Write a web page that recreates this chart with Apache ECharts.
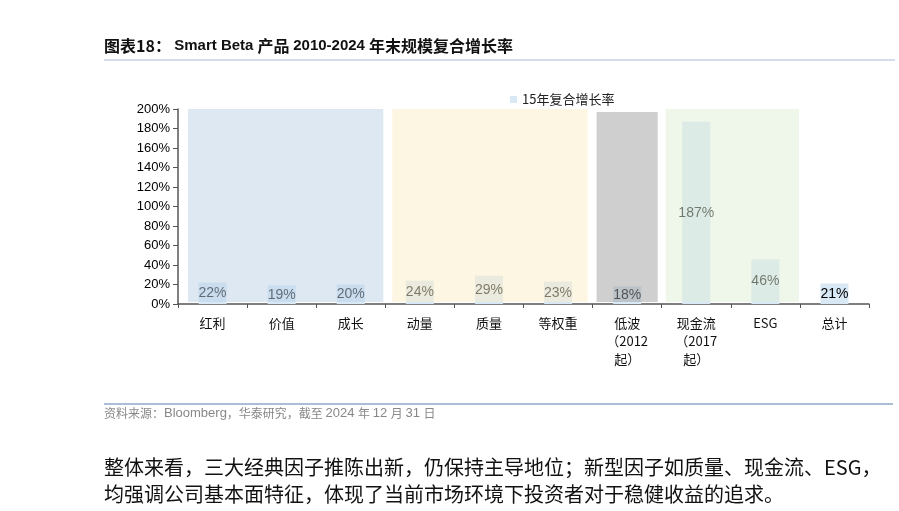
<!DOCTYPE html>
<html>
<head>
<meta charset="utf-8">
<style>
  html, body { margin: 0; padding: 0; background: #fff; }
  #main { width: 899px; height: 511px; }
</style>
</head>
<body>
<div id="main"></div>
<script src="https://cdn.jsdelivr.net/npm/echarts@6/dist/echarts.min.js"></script>
<script>
// 数据
var categories = ['红利', '价值', '成长', '动量', '质量', '等权重', '低波\n（2012\n起）', '现金流\n（2017\n起）', 'ESG', '总计'];
var growth = [0.22, 0.19, 0.20, 0.24, 0.29, 0.23, 0.18, 1.87, 0.46, 0.21];
var seriesName = '15年复合增长率';

// 背景分组（起止类目序号、顶部数值）
var bandFirst = [0, 3, 6, 7];
var bandLast = [2, 5, 6, 8];
var bandTop = [2, 2, 1.97, 2];

var bandColors = ['rgba(187,209,231,0.5)', 'rgba(251,237,199,0.5)', 'rgba(160,160,160,0.5)', 'rgba(223,237,213,0.5)'];
var padLeft = [10, 7, 4, 4];
var padRight = [2, 5, 4, 1];

var bandData = bandFirst.map(function (f, i) {
    return [f, bandLast[i] + 1, bandTop[i]];
});

var latin = '"Liberation Sans", Arial, Helvetica, sans-serif';
var cjk = '"Noto Sans CJK SC", "Liberation Sans", sans-serif';

var myChart = echarts.init(document.getElementById('main'));

var option = {
    animation: false,
    grid: { left: 178, right: 30, top: 109, bottom: 207 },
    legend: {
        data: [seriesName],
        left: 505, top: 88,
        icon: 'rect', itemWidth: 7, itemHeight: 7, itemGap: 4,
        textStyle: { fontSize: 13, color: '#222', fontFamily: cjk }
    },
    xAxis: [{
        type: 'category',
        data: categories,
        axisLine: { lineStyle: { color: '#555', width: 1.5 } },
        axisTick: { show: true, length: 4, lineStyle: { color: '#555' } },
        axisLabel: { interval: 0, margin: 10, fontSize: 13, lineHeight: 18, color: '#111', fontFamily: cjk }
    }, {
        type: 'value', min: 0, max: 10, show: false
    }],
    yAxis: {
        type: 'value', min: 0, max: 2, interval: 0.2,
        axisLine: { show: true, lineStyle: { color: '#555', width: 1.5 } },
        axisTick: { show: true, length: 5, lineStyle: { color: '#555' } },
        splitLine: { show: false },
        axisLabel: {
            margin: 8, fontSize: 13, color: '#000', fontFamily: latin,
            formatter: function (v) { return Math.round(v * 100) + '%'; }
        }
    },
    series: [{
        name: seriesName,
        type: 'bar',
        data: growth,
        barWidth: 28,
        z: 2,
        itemStyle: { color: '#d8e8f4' },
        label: {
            show: true, position: 'inside', color: '#000', fontSize: 14, fontFamily: latin,
            formatter: function (p) { return Math.round(p.value * 100) + '%'; }
        }
    }, {
        type: 'custom',
        xAxisIndex: 1,
        yAxisIndex: 0,
        z: 10,
        silent: true,
        data: bandData,
        renderItem: function (params, api) {
            var i = params.dataIndex;
            var p0 = api.coord([api.value(0), api.value(2)]);
            var p1 = api.coord([api.value(1), 0]);
            var x = p0[0] + padLeft[i];
            var w = p1[0] - padRight[i] - x;
            return {
                type: 'rect',
                shape: { x: x, y: p0[1], width: w, height: p1[1] - 2 - p0[1] },
                style: { fill: bandColors[i] }
            };
        }
    }],
    graphic: [
        {
            type: 'text', left: 104, top: 38,
            style: {
                text: '{c|图表18：} {l|Smart Beta }{c|产品 }{l|2010-2024 }{c|年末规模复合增长率}',
                fill: '#111',
                rich: {
                    c: { fontSize: 16, fontWeight: 'bold', fontFamily: cjk },
                    l: { fontSize: 15, fontWeight: 'bold', fontFamily: latin }
                }
            }
        },
        { type: 'line', shape: { x1: 104, y1: 60, x2: 895, y2: 60 }, style: { stroke: '#a9bbd3', lineWidth: 1 } },
        { type: 'line', shape: { x1: 104, y1: 404, x2: 893, y2: 404 }, style: { stroke: '#8fa9c9', lineWidth: 1.5 } },
        {
            type: 'text', left: 104, top: 407,
            style: {
                text: '{c|资料来源：}{l|Bloomberg}{c|，华泰研究，截至 }{l|2024 }{c|年 }{l|12 }{c|月 }{l|31 }{c|日}',
                fill: '#888',
                rich: {
                    c: { fontSize: 12, fontFamily: cjk, fill: '#888' },
                    l: { fontSize: 13, fontFamily: latin, fill: '#888' }
                }
            }
        },
        { type: 'text', left: 104, top: 457, style: { text: '整体来看，三大经典因子推陈出新，仍保持主导地位；新型因子如质量、现金流、ESG，', fontSize: 20, fill: '#111', fontFamily: cjk } },
        { type: 'text', left: 104, top: 484, style: { text: '均强调公司基本面特征，体现了当前市场环境下投资者对于稳健收益的追求。', fontSize: 20, fill: '#111', fontFamily: cjk } }
    ]
};

myChart.setOption(option);
</script>
</body>
</html>
